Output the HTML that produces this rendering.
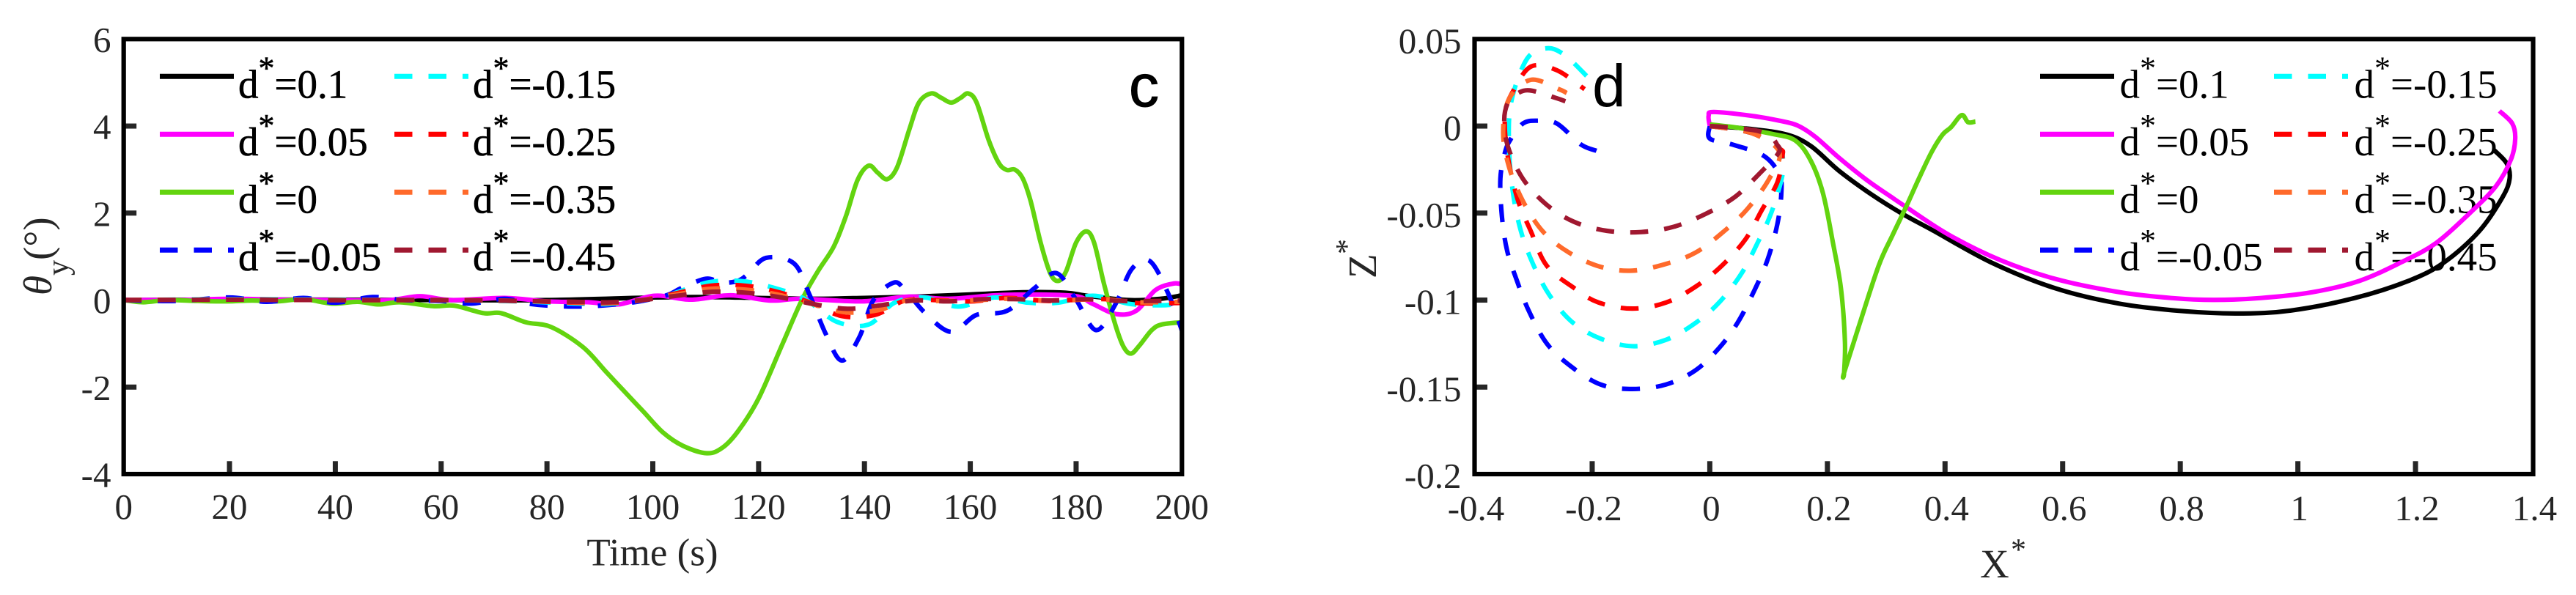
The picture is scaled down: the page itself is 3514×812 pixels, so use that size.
<!DOCTYPE html>
<html>
<head>
<meta charset="utf-8">
<title>Trim angle and trajectory charts</title>
<style>
html,body{margin:0;padding:0;background:#fff;width:3514px;height:812px;overflow:hidden}
svg{display:block}
text{font-family:"Liberation Serif",serif}
</style>
</head>
<body>
<svg id="fig" xmlns="http://www.w3.org/2000/svg" width="3514" height="812" viewBox="0 0 3514 812">
  <rect x="0" y="0" width="3514" height="812" fill="#fff"/>
  <defs>
    <clipPath id="clip-c"><rect x="168.7" y="53.3" width="1443.6" height="593.7"/></clipPath>
    <clipPath id="clip-d"><rect x="2011.5" y="53.3" width="1444" height="593.7"/></clipPath>
  </defs>
  <g id="panel-c"></g>
  <g id="panel-d"></g>
  <text x="890" y="771.5" font-size="53" fill="#262626" text-anchor="middle">Time (s)</text>
  <text transform="translate(70,403) rotate(-90)" font-size="55" fill="#262626"><tspan font-style="italic">θ</tspan><tspan font-size="42" dy="23">y</tspan><tspan dy="-23">(°)</tspan></text>
  <text x="2701" y="788" font-size="55" fill="#262626">X</text>
  <text x="2743" y="764" font-size="42" fill="#262626">*</text>
  <text transform="translate(1877,380) rotate(-90)" font-size="55" fill="#262626">Z</text>
  <text transform="translate(1851,347) rotate(-90)" font-size="42" fill="#262626">*</text>
  <text x="1540" y="145" font-size="82" fill="#000" stroke="#000" stroke-width="1" style="font-family:'Liberation Sans',sans-serif">c</text>
  <text x="2172" y="145" font-size="82" fill="#000" style="font-family:'Liberation Sans',sans-serif">d</text>
</svg>
<script>
// Shared legend / series metadata
const seriesLabels = ["0.1","0.05","0","-0.05","-0.15","-0.25","-0.35","-0.45"];
const seriesColors = ["#000000","#ff00ff","#63d40f","#0000ff","#00ffff","#ff0000","#ff6a2b","#a01830"];
const seriesKeys = ["d-0.1","d-0.05","d-0","d-minus-0.05","d-minus-0.15","d-minus-0.25","d-minus-0.35","d-minus-0.45"];

// Panel c ticks
const cXTicks = [0,20,40,60,80,100,120,140,160,180,200];
const cYTicks = [-4,-2,0,2,4,6];

// Panel c: theta_y vs time
const cT1 = [0,20,40,60,80,100,110,120,130,140,150,160,170,178,182,190,196,200];
const cV1 = [0,0.01,0.01,0,0,0.06,0.07,0.05,0.03,0.05,0.08,0.13,0.18,0.17,0.1,0,0.03,0.11];
const cT2 = [0,10,20,30,40,50,56,62,72,80,88,93.5,100.4,107.2,114.7,122.2,128.2,139.5,148.5,156,166.5,179.3,183,187.5,191.3,195,198.4,200];
const cV2 = [0.01,0,0.03,0.01,0,0,0.09,0,0.05,-0.03,-0.05,-0.1,0.1,0.01,0.11,-0.01,0.03,-0.03,0.08,0.03,0.12,0.1,-0.08,-0.32,-0.25,0.23,0.38,0.36];
const cT3 = [0,3.7,8.4,14,19.6,24.3,29,34,39.4,44.2,48.2,52.2,58.5,62.5,68,71.3,76,80.8,86.8,91.1,94.4,98.2,101.9,105.7,110.2,113.2,116.2,120,124.4,128.2,131.2,134.2,136.5,138.7,140.8,142.5,144.3,146.2,148.5,150.3,152.6,154.5,156.4,158.2,159.6,161.2,163.5,165.4,166.9,168.4,169.9,171.4,173.3,175.1,176.6,178.1,180,181.9,183.4,185.3,187.5,189,190.4,192,194.3,196.2,200];
const cV3 = [0,-0.05,0,-0.02,-0.03,-0.01,-0.03,0.02,-0.08,-0.04,-0.1,-0.05,-0.14,-0.13,-0.3,-0.3,-0.51,-0.62,-1.08,-1.64,-2.07,-2.56,-3.04,-3.35,-3.52,-3.39,-3,-2.26,-1.04,0.01,0.66,1.23,1.93,2.76,3.09,2.93,2.78,3.06,3.93,4.54,4.75,4.65,4.54,4.65,4.75,4.54,3.67,3.15,2.99,3,2.8,2.28,1.32,0.62,0.44,0.66,1.32,1.58,1.32,0.36,-0.6,-1.08,-1.23,-1.04,-0.69,-0.56,-0.51];
const cT4 = [0,10,20,27,34,40,47,53,60,65.7,72,77.6,85,91,97,102.6,105.3,110,113,116,118,121.4,126.7,129.7,132.7,135.7,139,141.7,145.5,147.7,151.5,156.4,161.2,166.9,172.1,176.3,180,183.8,187.5,190.5,193.9,197.3,200];
const cV4 = [0,-0.02,0.06,-0.04,0.05,-0.06,0.07,0,-0.02,-0.08,0.03,-0.1,-0.15,-0.12,-0.04,0.11,0.27,0.49,0.4,0.44,0.6,0.97,0.84,0.1,-0.78,-1.39,-0.86,0,0.4,0.23,-0.3,-0.73,-0.34,-0.25,0.27,0.62,0.01,-0.69,-0.08,0.71,0.9,0.18,-0.7];
const cT5 = [0,20,40,60,75,85,92,98,102.6,110.6,117.2,123.5,128.8,134.8,140.8,145.7,151.4,157.7,164.6,171,176.6,183.2,190.2,196.1,200];
const cV5 = [0,0.02,0.01,0,-0.03,-0.08,-0.09,0,0.1,0.41,0.43,0.26,0.02,-0.5,-0.56,-0.06,0.06,-0.15,0.06,-0.06,-0.06,0.1,-0.09,-0.12,-0.08];
const cT6 = [0,20,40,60,75,85,92,98,104.6,110.9,117.5,123.5,129.8,135.8,142,147.7,153.7,160.3,167,174.3,178.9,185.5,191.8,198.4,200];
const cV6 = [0,0.01,0,0,-0.02,-0.06,-0.07,0,0.16,0.33,0.33,0.19,-0.06,-0.37,-0.34,-0.01,0,-0.03,0.05,-0.02,0,0.02,-0.07,-0.07,-0.06];
const cT7 = [0,20,40,60,75,85,92,98,104.6,110.9,117.5,123.5,130.1,136.4,142.7,148,154,160.3,167,174.3,181,186,192,198,200];
const cV7 = [0,0.01,0,0,-0.02,-0.05,-0.06,0,0.13,0.26,0.24,0.13,-0.09,-0.28,-0.23,-0.01,-0.02,-0.01,0.03,-0.01,0.01,0.01,-0.05,-0.04,-0.04];
const cT8 = [0,20,40,60,75,85,92,98,104.6,111.2,117.5,123.8,130.3,136.8,143,149.4,156,162.3,169,175.4,181.9,188.5,194.8,200];
const cV8 = [0,0.01,0,0,-0.02,-0.04,-0.05,0,0.1,0.19,0.17,0.07,-0.09,-0.2,-0.12,-0.01,-0.03,0.02,0.02,-0.01,0.02,-0.02,-0.02,-0.01];

// Panel d ticks
const dXTicks = [-0.4,-0.2,0,0.2,0.4,0.6,0.8,1,1.2,1.4];
const dYTicks = [-0.2,-0.15,-0.1,-0.05,0,0.05];

// Panel d: Z* vs X*
const dX1 = [0,0.071,0.1318,0.1723,0.2196,0.2737,0.3278,0.3774,0.4792,0.5882,0.6972,0.8063,0.9008,0.988,1.097,1.1915,1.2497,1.3078,1.3478,1.3601,1.355,1.3333];
const dZ1 = [0,-0.0017,-0.005,-0.0116,-0.0257,-0.039,-0.0505,-0.0596,-0.0785,-0.0933,-0.1021,-0.1064,-0.1077,-0.106,-0.0988,-0.0885,-0.0781,-0.0606,-0.041,-0.0301,-0.0214,-0.0137];
const dX2 = [0,0,-0.002,0.0068,0.071,0.1183,0.1487,0.1791,0.2196,0.2669,0.3075,0.3338,0.4065,0.4937,0.5882,0.6972,0.7845,0.8571,0.9371,1.0243,1.1043,1.1769,1.2351,1.2933,1.3369,1.3623,1.3696,1.3645,1.3427];
const dZ2 = [0,0,0.0059,0.0081,0.0059,0.0031,0.0004,-0.0061,-0.0182,-0.031,-0.0405,-0.0465,-0.0625,-0.077,-0.0879,-0.0955,-0.0988,-0.0999,-0.0988,-0.0955,-0.089,-0.0781,-0.0672,-0.0497,-0.0345,-0.0192,-0.0072,0.0015,0.0087];
const dX3 = [0,0.0507,0.1047,0.1453,0.1723,0.1926,0.2095,0.223,0.2298,0.2284,0.2284,0.2534,0.2872,0.3109,0.3338,0.3556,0.3774,0.3956,0.4101,0.4283,0.4392,0.4516];
const dZ3 = [0.001,-0.0011,-0.0044,-0.0083,-0.0203,-0.0388,-0.0672,-0.0933,-0.1239,-0.1417,-0.1417,-0.1151,-0.0802,-0.0626,-0.0464,-0.0301,-0.0148,-0.005,-0.0007,0.0063,0.0022,0.0026];
const dX4 = [0,0,0.0372,0.0912,0.1183,0.1216,0.1149,0.098,0.0743,0.0473,0.0169,-0.0237,-0.0743,-0.1318,-0.1858,-0.2365,-0.2771,-0.3075,-0.3278,-0.3447,-0.3535,-0.3561,-0.348,-0.3379,-0.3176,-0.294,-0.2602,-0.2196,-0.1926];
const dZ4 = [0,-0.0072,-0.0105,-0.017,-0.0279,-0.0388,-0.0563,-0.077,-0.0955,-0.113,-0.1271,-0.1402,-0.1485,-0.1511,-0.1485,-0.138,-0.125,-0.1064,-0.089,-0.0715,-0.0519,-0.0301,-0.0148,-0.0072,0.0015,0.0031,0.0015,-0.0105,-0.0142];
const dX5 = [0,0.071,0.118,0.1237,0.1237,0.1047,0.0811,0.0541,0.0169,-0.0237,-0.0743,-0.1318,-0.1892,-0.2365,-0.2737,-0.3007,-0.321,-0.3345,-0.3413,-0.3379,-0.3109,-0.2771,-0.2467,-0.2095];
const dZ5 = [0,-0.004,-0.0128,-0.017,-0.0279,-0.0497,-0.0672,-0.0846,-0.101,-0.113,-0.1228,-0.1265,-0.1217,-0.1119,-0.0966,-0.0792,-0.0606,-0.0388,-0.0126,0.0135,0.0386,0.0447,0.0408,0.0288];
const dX6 = [0,0.071,0.118,0.1237,0.1149,0.0879,0.0608,0.0203,-0.0237,-0.0743,-0.1318,-0.1892,-0.2298,-0.2771,-0.3041,-0.3278,-0.3447,-0.348,-0.3345,-0.3041,-0.2602,-0.2129];
const dZ6 = [0,-0.004,-0.0128,-0.017,-0.0323,-0.0486,-0.065,-0.0803,-0.0922,-0.1014,-0.1049,-0.1014,-0.0933,-0.0803,-0.0606,-0.041,-0.0148,0.007,0.0201,0.0342,0.0321,0.0212];
const dX7 = [0,0.071,0.118,0.1014,0.0642,0.0237,-0.0237,-0.0743,-0.1318,-0.1858,-0.2399,-0.2838,-0.3176,-0.3413,-0.3514,-0.3413,-0.3041,-0.2568,-0.2433];
const dZ7 = [0,-0.004,-0.0148,-0.0301,-0.0475,-0.0606,-0.0726,-0.0792,-0.0831,-0.0809,-0.0726,-0.0606,-0.0432,-0.0236,-0.0039,0.0157,0.0266,0.0212,0.019];
const dX8 = [0,0.0266,0.0806,0.1035,0.1139,0.1172,0.0848,0.0432,-0.0067,-0.0607,-0.1168,-0.175,-0.2311,-0.2789,-0.3184,-0.3433,-0.3495,-0.3433,-0.3288,-0.3059,-0.2602,-0.2456];
const dZ8 = [0,-0.0006,-0.0027,-0.0062,-0.0104,-0.0153,-0.0272,-0.0406,-0.0504,-0.0578,-0.0609,-0.0602,-0.055,-0.0448,-0.03,-0.0118,0.0036,0.0135,0.0184,0.0205,0.016,0.0142];

const cTimes = [cT1,cT2,cT3,cT4,cT5,cT6,cT7,cT8];
const cVals = [cV1,cV2,cV3,cV4,cV5,cV6,cV7,cV8];
const dXs = [dX1,dX2,dX3,dX4,dX5,dX6,dX7,dX8];
const dZs = [dZ1,dZ2,dZ3,dZ4,dZ5,dZ6,dZ7,dZ8];

const NS = "http://www.w3.org/2000/svg";
function mk(parent, tag, attrs, text) {
  const el = document.createElementNS(NS, tag);
  for (const k in attrs) el.setAttribute(k, attrs[k]);
  if (text !== undefined) el.textContent = text;
  parent.appendChild(el);
  return el;
}
function smoothPath(pts) {
  let d = "M" + pts[0][0].toFixed(2) + " " + pts[0][1].toFixed(2);
  for (let i = 0; i < pts.length - 1; i++) {
    const p0 = pts[Math.max(i - 1, 0)], p1 = pts[i], p2 = pts[i + 1], p3 = pts[Math.min(i + 2, pts.length - 1)];
    const c1x = p1[0] + (p2[0] - p0[0]) / 6, c1y = p1[1] + (p2[1] - p0[1]) / 6;
    const c2x = p2[0] - (p3[0] - p1[0]) / 6, c2y = p2[1] - (p3[1] - p1[1]) / 6;
    d += "C" + c1x.toFixed(2) + " " + c1y.toFixed(2) + " " + c2x.toFixed(2) + " " + c2y.toFixed(2) + " " + p2[0].toFixed(2) + " " + p2[1].toFixed(2);
  }
  return d;
}

function drawPanel(cfg) {
  const g = document.getElementById(cfg.id);
  const L = cfg.left, R = cfg.right, T = 53.3, B = 647;
  const sx = v => L + (v - cfg.xMin) / (cfg.xMax - cfg.xMin) * (R - L);
  const sy = v => B - (v - cfg.yMin) / (cfg.yMax - cfg.yMin) * (B - T);

  // legend beneath curves
  seriesLabels.forEach((lab, i) => {
    const col = i < 4 ? 0 : 1, row = i % 4;
    const lx = cfg.legLine[col], ly = 104.3 + row * 79, by = 133.3 + row * 78.5, tx = cfg.legText[col];
    const entry = mk(g, "g", {});
    
    
    const swatch = mk(entry, "line", {x1: lx, x2: lx + 101, y1: ly, y2: ly, stroke: seriesColors[i], "stroke-width": 7});
    
    
    if (i >= 3) swatch.setAttribute("stroke-dasharray", "24.5 22");
    const extra = cfg.legBold ? {stroke: "#000", "stroke-width": 0.6} : {};
    const t1 = mk(entry, "text", Object.assign({x: tx, y: by, "font-size": 55, fill: "#000"}, extra), "d");
    
    
    const t2 = mk(entry, "text", Object.assign({x: tx + 27.5, y: 107.7 + row * 78.5, "font-size": 44, fill: "#000"}, extra), "*");
    
    
    const t3 = mk(entry, "text", Object.assign({x: tx + 49.5, y: by, "font-size": 55, fill: "#000"}, extra), "=" + lab);
    
    
  });

  // ticks
  cfg.xTicks.forEach(v => {
    const x = sx(v);
    if (v !== cfg.xMin && v !== cfg.xMax) {
      const tk = mk(g, "line", {x1: x, x2: x, y1: 629.3, y2: 645, stroke: "#262626", "stroke-width": 7});
      
      
    }
    const lb = mk(g, "text", {x: x + cfg.xLabShift, y: cfg.xLabY, "font-size": 49, fill: "#262626", "text-anchor": "middle"}, String(v));
    
    
  });
  cfg.yTicks.forEach(v => {
    const y = sy(v);
    if (v !== cfg.yMin && v !== cfg.yMax) {
      const tk = mk(g, "line", {x1: L + 2, x2: L + 17.5, y1: y, y2: y, stroke: "#262626", "stroke-width": 7});
      
      
    }
    const lb = mk(g, "text", {x: cfg.yLabX, y: y + cfg.yLabDy, "font-size": 49, fill: "#262626", "text-anchor": "end"}, String(v));
    
    
  });

  // curves
  const clip = mk(g, "g", {"clip-path": "url(#" + cfg.clip + ")"});
  
  
  cfg.xs.forEach((xa, i) => {
    const pts = xa.map((v, j) => [sx(v), sy(cfg.ys[i][j])]);
    const p = mk(clip, "path", {d: smoothPath(pts), fill: "none", stroke: seriesColors[i], "stroke-width": 6.2, "stroke-linejoin": "round"});
    
    
    if (i >= 3) p.setAttribute("stroke-dasharray", "24.5 22");
  });

  const frame = mk(g, "rect", {x: L, y: T, width: R - L, height: B - T, fill: "none", stroke: "#000", "stroke-width": 6.2});
  
  
}

drawPanel({id: "panel-c", clip: "clip-c", left: 168.7, right: 1612.3, xMin: 0, xMax: 200, yMin: -4, yMax: 6,
  xTicks: cXTicks, yTicks: cYTicks, xs: cTimes, ys: cVals,
  legLine: [218, 538], legText: [325, 645], legBold: true,
  xLabY: 708, xLabShift: 0, yLabX: 151.5, yLabDy: 17.5});
drawPanel({id: "panel-d", clip: "clip-d", left: 2011.5, right: 3455.5, xMin: -0.4, xMax: 1.4, yMin: -0.2, yMax: 0.05,
  xTicks: dXTicks, yTicks: dYTicks, xs: dXs, ys: dZs,
  legLine: [2783, 3102], legText: [2891.5, 3211.5], legBold: false,
  xLabY: 710, xLabShift: 2, yLabX: 1993.5, yLabDy: 19});
</script>
</body>
</html>
